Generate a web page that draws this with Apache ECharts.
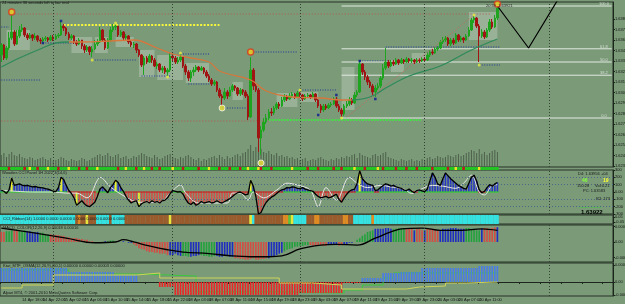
<!DOCTYPE html>
<html>
<head>
<meta charset="utf-8">
<script src="https://cdn.jsdelivr.net/npm/echarts@6.0.0/dist/echarts.min.js"></script>
<style>
html,body{margin:0;padding:0;background:#7a9a78;overflow:hidden;}
#chart{width:625px;height:304px;}
</style>
</head>
<body>
<div id="chart"></div>
<script>
// ---------------- DATA ----------------
const timeLabels = ['14 Apr 2011','14 Apr 18:00','14 Apr 22:00','15 Apr 02:00','15 Apr 06:00','15 Apr 10:00','15 Apr 14:00','15 Apr 18:00','15 Apr 22:00','18 Apr 03:00','18 Apr 07:00','18 Apr 11:00','18 Apr 15:00','18 Apr 19:00','18 Apr 23:00','19 Apr 03:00','19 Apr 07:00','19 Apr 11:00','19 Apr 15:00','19 Apr 19:00','19 Apr 23:00','20 Apr 03:00','20 Apr 07:00','20 Apr 11:00'];
const priceTicks = [1.63810,1.63705,1.63600,1.63495,1.63390,1.63285,1.63180,1.63075,1.62970,1.62865,1.62760,1.62655,1.62550,1.62445,1.62340];
const currentPrice = 1.63922;
const oscTicks = [300,200,100,0,-100,-200,-300];
const oscLevels = [200,100,-100,-200];
const ribbonTicks = [0.05,-0.05];
const macdTicks = [20,0,-20];      // units of 0.00001
const mtfTicks = [50,0,-40];       // units of 0.000001
const separators = [20,66,115,163,211];

const opens = [1.6345,1.6355,1.6342,1.6352,1.6362,1.6368,1.6356,1.6364,1.6370,1.6372,
1.6365,1.6362,1.6365,1.6362,1.6364,1.6360,1.6359,1.6361,1.6362,1.6360,
1.6363,1.6361,1.6364,1.6365,1.6374,1.6372,1.6366,1.6362,1.6364,1.6358,
1.6356,1.6360,1.6354,1.6350,1.6353,1.6348,1.6351,1.6356,1.6358,1.6370,
1.6360,1.6352,1.6360,1.6370,1.6373,1.6374,1.6365,1.6368,1.6362,1.6364,
1.6358,1.6355,1.6356,1.6350,1.6345,1.6335,1.6342,1.6338,1.6344,1.6340,
1.6334,1.6336,1.6330,1.6332,1.6328,1.6330,1.6344,1.6342,1.6338,1.6340,
1.6343,1.6334,1.6328,1.6322,1.6328,1.6330,1.6333,1.6330,1.6332,1.6328,
1.6324,1.6320,1.6316,1.6318,1.6310,1.6304,1.6302,1.6308,1.6304,1.6310,
1.6314,1.6312,1.6306,1.6310,1.6308,1.6304,1.6283,1.6330,1.6314,1.6310,
1.6262,1.6270,1.6278,1.6282,1.6288,1.6287,1.6292,1.6296,1.6294,1.6300,
1.6303,1.6301,1.6304,1.6306,1.6303,1.6307,1.6305,1.6301,1.6304,1.6305,
1.6303,1.6306,1.6300,1.6294,1.6290,1.6294,1.6292,1.6295,1.6296,1.6301,
1.6294,1.6290,1.6286,1.6294,1.6296,1.6300,1.6297,1.6305,1.6308,1.6336,
1.6328,1.6323,1.6318,1.6314,1.6308,1.6312,1.6314,1.6322,1.6332,1.6338,
1.6334,1.6338,1.6336,1.6340,1.6337,1.6340,1.6338,1.6341,1.6339,1.6340,
1.6338,1.6340,1.6339,1.6341,1.6340,1.6345,1.6348,1.6347,1.6351,1.6352,
1.6358,1.6360,1.6362,1.6356,1.6360,1.6357,1.6365,1.6360,1.6362,1.6360,
1.6364,1.6370,1.6380,1.6382,1.6374,1.6364,1.6368,1.6363,1.6370,1.6378,
1.6373,1.6382];
const closes = [1.6355,1.6342,1.6352,1.6362,1.6368,1.6356,1.6364,1.6370,1.6372,1.6365,
1.6362,1.6365,1.6362,1.6364,1.6360,1.6359,1.6361,1.6362,1.6360,1.6363,
1.6361,1.6364,1.6365,1.6374,1.6372,1.6366,1.6362,1.6364,1.6358,1.6356,
1.6360,1.6354,1.6350,1.6353,1.6348,1.6351,1.6356,1.6358,1.6370,1.6360,
1.6352,1.6360,1.6370,1.6373,1.6374,1.6365,1.6368,1.6362,1.6364,1.6358,
1.6355,1.6356,1.6350,1.6345,1.6335,1.6342,1.6338,1.6344,1.6340,1.6334,
1.6336,1.6330,1.6332,1.6328,1.6330,1.6344,1.6342,1.6338,1.6340,1.6343,
1.6334,1.6328,1.6322,1.6328,1.6330,1.6333,1.6330,1.6332,1.6328,1.6324,
1.6320,1.6316,1.6318,1.6310,1.6304,1.6302,1.6308,1.6304,1.6310,1.6314,
1.6312,1.6306,1.6310,1.6308,1.6304,1.6283,1.6330,1.6314,1.6310,1.6262,
1.6270,1.6278,1.6282,1.6288,1.6287,1.6292,1.6296,1.6294,1.6300,1.6303,
1.6301,1.6304,1.6306,1.6303,1.6307,1.6305,1.6301,1.6304,1.6305,1.6303,
1.6306,1.6300,1.6294,1.6290,1.6294,1.6292,1.6295,1.6296,1.6301,1.6294,
1.6290,1.6286,1.6294,1.6296,1.6300,1.6297,1.6305,1.6308,1.6336,1.6328,
1.6323,1.6318,1.6314,1.6308,1.6312,1.6314,1.6322,1.6332,1.6338,1.6334,
1.6338,1.6336,1.6340,1.6337,1.6340,1.6338,1.6341,1.6339,1.6340,1.6338,
1.6340,1.6339,1.6341,1.6340,1.6345,1.6348,1.6347,1.6351,1.6352,1.6358,
1.6360,1.6362,1.6356,1.6360,1.6357,1.6365,1.6360,1.6362,1.6360,1.6364,
1.6370,1.6380,1.6382,1.6374,1.6364,1.6368,1.6363,1.6370,1.6378,1.6373,
1.6382,1.6392];
const highs = [1.6357,1.6356,1.6354,1.6368,1.6386,1.6370,1.6370,1.6374,1.6376,1.6373,
1.6367,1.6367,1.6366,1.6367,1.6365,1.6362,1.6363,1.6364,1.6363,1.6365,
1.6365,1.6366,1.6367,1.6379,1.6376,1.6373,1.6368,1.6366,1.6365,1.6360,
1.6362,1.6360,1.6356,1.6355,1.6354,1.6354,1.6360,1.6361,1.6373,1.6371,
1.6362,1.6362,1.6373,1.6376,1.6375,1.6374,1.6370,1.6369,1.6366,1.6365,
1.6360,1.6358,1.6357,1.6351,1.6346,1.6344,1.6344,1.6346,1.6345,1.6342,
1.6338,1.6337,1.6334,1.6334,1.6332,1.6347,1.6346,1.6344,1.6343,1.6347,
1.6343,1.6336,1.6330,1.6330,1.6333,1.6335,1.6334,1.6334,1.6333,1.6330,
1.6326,1.6322,1.6320,1.6319,1.6312,1.6306,1.6312,1.6310,1.6313,1.6316,
1.6315,1.6313,1.6312,1.6311,1.6310,1.6306,1.6343,1.6332,1.6316,1.6312,
1.6274,1.6282,1.6286,1.6291,1.6292,1.6294,1.6298,1.6298,1.6303,1.6306,
1.6305,1.6307,1.6308,1.6307,1.6309,1.6308,1.6306,1.6306,1.6307,1.6306,
1.6308,1.6307,1.6301,1.6296,1.6296,1.6296,1.6297,1.6298,1.6303,1.6303,
1.6296,1.6292,1.6296,1.6299,1.6303,1.6302,1.6308,1.6310,1.6339,1.6337,
1.6330,1.6325,1.6320,1.6316,1.6315,1.6317,1.6324,1.6336,1.6352,1.6340,
1.6340,1.6340,1.6342,1.6341,1.6342,1.6341,1.6343,1.6342,1.6342,1.6341,
1.6342,1.6342,1.6343,1.6343,1.6348,1.6350,1.6351,1.6353,1.6354,1.6360,
1.6363,1.6364,1.6363,1.6362,1.6362,1.6367,1.6366,1.6364,1.6363,1.6366,
1.6373,1.6382,1.6384,1.6383,1.6376,1.6371,1.6370,1.6372,1.6381,1.6381,
1.6385,1.6394];
const lows = [1.6338,1.6340,1.6340,1.6350,1.6360,1.6354,1.6355,1.6362,1.6368,1.6363,
1.6360,1.6361,1.6359,1.6360,1.6358,1.6356,1.6357,1.6359,1.6358,1.6359,
1.6359,1.6360,1.6362,1.6364,1.6369,1.6364,1.6360,1.6360,1.6356,1.6354,
1.6355,1.6351,1.6347,1.6348,1.6345,1.6343,1.6350,1.6354,1.6357,1.6358,
1.6350,1.6351,1.6358,1.6368,1.6370,1.6363,1.6363,1.6360,1.6360,1.6356,
1.6353,1.6352,1.6347,1.6343,1.6333,1.6325,1.6336,1.6337,1.6337,1.6333,
1.6331,1.6328,1.6327,1.6326,1.6324,1.6328,1.6338,1.6336,1.6336,1.6338,
1.6332,1.6325,1.6319,1.6318,1.6324,1.6328,1.6328,1.6329,1.6326,1.6322,
1.6318,1.6314,1.6314,1.6308,1.6302,1.6294,1.6300,1.6301,1.6303,1.6308,
1.6309,1.6304,1.6304,1.6305,1.6302,1.6280,1.6282,1.6310,1.6308,1.6248,
1.6245,1.6268,1.6276,1.6280,1.6284,1.6285,1.6290,1.6291,1.6293,1.6298,
1.6299,1.6300,1.6302,1.6301,1.6302,1.6302,1.6299,1.6300,1.6302,1.6301,
1.6302,1.6298,1.6292,1.6287,1.6288,1.6290,1.6291,1.6293,1.6295,1.6292,
1.6288,1.6283,1.6284,1.6292,1.6294,1.6295,1.6296,1.6303,1.6307,1.6325,
1.6320,1.6315,1.6312,1.6305,1.6303,1.6310,1.6312,1.6320,1.6330,1.6332,
1.6333,1.6334,1.6335,1.6335,1.6336,1.6336,1.6337,1.6337,1.6337,1.6336,
1.6337,1.6337,1.6338,1.6338,1.6339,1.6343,1.6345,1.6346,1.6349,1.6351,
1.6356,1.6358,1.6354,1.6354,1.6355,1.6356,1.6358,1.6358,1.6357,1.6359,
1.6363,1.6369,1.6377,1.6372,1.6338,1.6362,1.6361,1.6362,1.6368,1.6371,
1.6372,1.6380];
const volumes = [12,14,10,13,15,12,11,13,10,9,
8,10,9,7,8,9,10,8,7,9,
6,7,8,10,9,7,6,8,7,6,
7,9,8,6,7,9,10,12,13,11,
12,14,11,10,12,13,9,10,11,8,
9,11,10,12,14,13,11,10,9,12,
10,8,9,11,12,13,10,9,8,10,
9,11,12,10,8,7,9,6,8,7,
9,10,11,9,12,10,8,11,9,10,
12,13,11,14,15,18,22,16,20,24,
18,15,14,16,13,12,14,11,12,10,
11,9,10,8,9,7,8,9,6,7,
8,7,9,10,8,7,6,8,7,9,
8,10,9,11,10,12,13,9,14,12,
11,10,9,12,13,11,12,14,15,10,
9,8,7,6,8,7,6,7,8,6,
7,6,8,7,9,10,8,9,11,10,
9,10,12,11,10,12,13,11,12,14,
15,17,16,14,18,13,15,12,14,16,
17,15];

// moving average (slope coloured) read as key points [bar, price]
const maRising1 = [[0,1.6333],[7,1.6342],[15,1.6351],[21,1.6357],[26,1.6358]];
const maFalling = [[26,1.6358],[31,1.6358],[42,1.6359],[51,1.6360],[60,1.6352],[66,1.6346],[73,1.6342],[80,1.6338],[84,1.6329],[96,1.6320],[102,1.6309],[112,1.6303],[123,1.6302],[131,1.6300],[135,1.6300]];
const maRising2 = [[135,1.6300],[142,1.6303],[148,1.6312],[157,1.6324],[169,1.6334],[181,1.6350],[191,1.6361]];
const trendLine = [[133,1.6283],[182,1.6385]];
const zigzag = [[191,1.6394],[203,1.6352],[217,1.6412]];

// consolidation boxes [fromBar, toBar, top, bottom]
const boxes = [[2,11,1.6370,1.6350],[27,35,1.6363,1.6347],[36,41,1.6363,1.6347],[44,51,1.6363,1.6353],
[53,59,1.6350,1.6323],[60,70,1.6345,1.6320],[71,80,1.6337,1.6317],[89,93,1.6318,1.6300],
[106,114,1.6307,1.6293],[115,122,1.6308,1.6298],[131,136,1.6333,1.6290],[150,155,1.6340,1.6328],
[158,164,1.6347,1.6340],[180,191,1.6388,1.6360]];

// horizontal levels [kind, fromBar, toBar, price]
const levels = [['red',4,188,1.6386],['blue',0,3,1.6373],['blue',16,28,1.6357],['blue',0,15,1.6320],
['blue',35,52,1.6340],['blue',54,65,1.6324],['blue',69,80,1.6346],['blue',72,80,1.6316],
['blue',96,114,1.6348],['blue',85,95,1.6292],['blue',115,129,1.6310],['blue',138,149,1.6339],
['blue',148,192,1.6353],['blue',184,192,1.6335],['yellow',24,84,1.6375],['red',0,103,1.6279],
['green',103,162,1.6280]];

// fibonacci retracement
const fibFrom = 131, fibTo = 235;
const fibLow = 1.6282, fibHigh = 1.6394;
const fibRatios = [0, 0.382, 0.5, 0.618, 1];
const fibNames = ['0.0','38.2','50.0','61.8','100.0'];

// fractal markers [bar, price]
const fractalBig = [[4,1.6388],[96,1.6348],[191,1.6396]];
const fractalYellow = [[35,1.6340],[44,1.6377],[64,1.6323],[69,1.6347],[115,1.6310],[131,1.6282],[182,1.6385],[184,1.6335]];
const fractalRing = [[85,1.6292],[100,1.6237]];
const fractalBlue = [[16,1.6357],[23,1.6379],[122,1.6285],[129,1.6305],[138,1.6339],[144,1.6301]];

// signal strip under price panel
const stripRed = [3,9,14,22,30,33,45,52,58,61,70,76,84,88,92,100,104,118,122,128,131,140,147,152,156,160,166,172,178];
const stripYellow = [11,18,26,37,48,55,66,80,95,99,112,136,145,175,184];

// CCI panel
const cci = [25,10,-20,30,190,90,
100,110,95,85,90,80,70,75,65,60,55,45,40,25,
10,5,60,200,170,90,20,-20,
-80,-180,-150,-120,-160,-190,-200,-170,-140,
-60,40,70,30,-10,60,100,160,130,60,10,
-60,-110,-150,-130,-120,-200,
-160,-140,-130,-150,-120,-140,-130,-150,-120,-110,-80,-20,
20,10,0,5,-30,-100,
-150,-170,-140,-180,-160,-130,-150,-140,
-130,-150,-140,-120,-140,-150,-130,-110,-90,-60,
-30,-10,0,-20,-40,-30,160,80,-60,
-300,-280,-200,-140,-100,-70,-50,-20,10,30,
40,60,55,70,65,50,45,60,40,30,20,10,-30,-60,
-80,-70,-60,-80,-70,-50,-30,-100,-140,
-80,-30,10,30,40,120,290,
180,140,110,100,90,20,30,
60,90,110,100,80,90,70,60,50,
30,20,40,10,-10,20,30,15,5,40,
150,260,200,110,90,180,260,
220,180,150,120,90,70,50,40,
120,200,230,150,30,-10,10,60,100,80,110,130];
const cciYellow = [4,23,29,44,53,96,138];
const tcciPts = [[0,25],[12,0],[20,0],[25,-15],[29,-15],[33,-80],[37,160],[38,200],[42,70],[48,-70],[53,-140],[61,-140],[65,-15],[69,95],[71,-15],[76,-150],[87,-150],[89,-15],[92,-15],[95,-110],[97,0],[101,-80],[106,25],[110,120],[114,95],[119,25],[122,-200],[125,60],[129,-110],[134,200],[137,120],[141,60],[146,90],[150,70],[155,40],[158,-20],[161,30],[166,90],[170,80],[175,50],[178,120],[181,230],[184,0],[186,-40],[189,90],[191,100]];
// zero-line trend dashes [from, to, state] 0 = up, 1 = down
const zeroRuns = [[0,25,0],[26,36,1],[37,47,0],[48,65,1],[66,70,0],[71,95,1],[96,97,0],[98,108,1],[109,120,0],[121,136,1],[137,143,0],[144,145,1],[146,158,0],[159,160,1],[161,183,0],[184,186,1],[187,191,0]];

// ribbon [from, to, state] 0 cyan,1 brown,2 orange,3 yellow,4 green
const ribbonRuns = [[0,28,0],[29,29,1],[30,30,2],[31,32,1],[33,33,3],[34,36,1],[37,41,0],[42,42,1],[43,47,0],[48,64,1],[65,65,3],[66,95,1],[96,96,3],[97,97,0],[98,108,1],[109,110,2],[111,111,4],[112,112,3],[113,117,0],[118,120,1],[121,122,2],[123,131,1],[132,133,2],[134,135,1],[136,142,0],[143,143,2],[144,191,0]];

// MACD histogram (units 0.00001) and state runs 0 red,1 green,2 blue
const macdHist = [13,13,14,14,15,15,15,14,14,15,14,14,13,
13,13,12,12,10,10,10,9,9,9,8,8,
6,6,5,5,5,4,4,3,3,1,1,
0,-1,-1,0,1,1,2,2,1,1,0,1,0,-1,-1,
-3,-5,-8,-9,-10,-12,-13,-13,-14,-14,-15,-15,-15,-17,
-17,-17,-15,-17,-18,-18,
-18,-19,-19,-18,-18,-17,-17,-18,-18,-19,-19,-18,-18,-19,-19,-18,-18,-19,-19,
-21,-21,-22,-22,-23,-23,-22,-21,-23,-23,-22,-22,-21,-21,
-19,-18,-17,-15,-14,
-12,-10,-9,-8,-6,-6,-5,-5,-4,-4,-4,-5,-5,-4,-4,-5,-5,-4,-4,-3,-4,-5,-4,-3,-3,-1,-1,0,
3,5,8,10,13,14,15,17,
17,17,17,18,18,17,17,17,18,18,
18,17,17,17,15,17,17,15,15,17,
17,17,15,15,15,17,17,17,18,18,
18,17,17,17,18,18,17,17,15,15,
17,18,18,17,18,19,19];
const macdRuns = [[0,1,0],[2,4,1],[5,6,0],[7,9,1],[10,14,2],[15,18,1],[19,35,0],[36,40,2],[41,44,1],[45,50,2],[51,64,0],[65,69,2],[70,72,1],[73,76,2],[77,82,1],[83,89,2],[90,102,0],[103,108,2],[109,118,1],[119,125,0],[126,129,2],[130,131,0],[132,136,2],[137,143,1],[144,150,2],[151,155,1],[156,158,0],[159,159,2],[160,162,0],[163,163,2],[164,168,0],[169,178,2],[179,184,1],[185,185,2],[186,190,0],[191,191,2]];
const macdSignal = [[0,18],[12,12],[25,5],[36,-1],[44,0],[47,3],[51,0],[57,-5],[64,-10],[70,-13],[80,-15],[89,-18],[96,-19],[103,-19],[108,-18],[115,-9],[123,-4],[129,-3],[137,-4],[144,5],[150,13],[154,17],[162,18],[169,15],[177,15],[185,17],[191,15]];

// MTF OSMA panel (units 0.000001): runs [from, to, value]
const mtfRuns = [[0,25,42],[26,43,30],[44,52,21],[53,60,0],[61,66,-15],[67,114,-39],[115,131,-33],[132,138,-3],[139,146,12],[147,153,27],[154,161,30],[162,183,42],[184,191,48]];
const mtfYellow = [[0,-18],[8,-9],[20,21],[52,27],[61,12],[107,-3],[120,-9],[131,-21],[156,-15],[161,-12],[171,-3],[179,0],[191,0]];
const mtfGreen = [[0,36],[26,24],[53,18],[75,-30],[113,-33],[132,-24],[139,-9],[147,12],[151,27],[191,27]];

// ---------------- CHART ----------------
const N_CAT = 236;
const cats = Array.from({length:N_CAT}, (_, i) => String(i));
const FONT = 'Liberation Sans';
const AX = '#1c261c';

function expandRuns(runs){ const out = []; runs.forEach(r => { for (let i = r[0]; i <= r[1]; i++) out[i] = r[2]; }); return out; }

const grids = [
  {top:2, height:165, show:true},
  {top:140, height:27},
  {top:167, height:3},
  {top:170, height:44, show:true},
  {top:215, height:9, show:true},
  {top:225, height:37, show:true},
  {top:263, height:33, show:true}
].map(g => Object.assign({left:0, right:12, borderColor:'#263226', borderWidth:1, backgroundColor:'transparent', outerBoundsMode:'none'}, g));

const xAxes = grids.map((g, gi) => {
  const bottom = gi === 6;
  return {
    type:'category', gridIndex:gi, data:cats, boundaryGap:true, show:bottom,
    axisLine:{show:bottom, lineStyle:{color:AX}},
    axisTick:{show:bottom, interval:7, length:2, lineStyle:{color:AX}},
    axisLabel:{show:bottom, interval:7, fontSize:4, color:'#141414', fontFamily:FONT, align:'left', margin:2,
      formatter:(v, idx) => (idx % 8 === 0 && timeLabels[idx/8]) ? timeLabels[idx/8] : ''},
    splitLine:{show:false}
  };
});

function yAx(gi, min, max, ticks, fmt, show){
  const s = show !== false;
  const o = {type:'value', gridIndex:gi, position:'right', min:min, max:max, show:s,
    axisLine:{show:s, lineStyle:{color:AX}},
    axisTick:{show:!!ticks, length:2, lineStyle:{color:AX}},
    axisLabel:{show:!!ticks, fontSize:4, color:'#141414', fontFamily:FONT, margin:2, formatter:fmt},
    splitLine:{show:false}};
  if (ticks) { o.axisTick.customValues = ticks; o.axisLabel.customValues = ticks; }
  return o;
}
const yAxes = [
  yAx(0, 1.6233, 1.6398, priceTicks, v => v.toFixed(5)),
  yAx(1, 0, 27, null, null, false),
  yAx(2, 0, 1, null, null, false),
  yAx(3, -300, 300, oscTicks, v => v === 0 ? '0.00' : String(v)),
  yAx(4, -0.1, 0.1, ribbonTicks, v => v.toFixed(2)),
  yAx(5, -25.8, 21.9, macdTicks, v => v === 0 ? '0.00' : (v/1e5).toFixed(4)),
  yAx(6, -42, 57, mtfTicks, v => v === 0 ? '0.00' : (v/1e6).toFixed(5)),
  yAx(4, 0, 1, null, null, false)   // 7: ribbon fill axis
];

const sepMarks = separators.map(i => ({xAxis:i}));
function sepLine(extra){
  return {silent:true, symbol:'none', animation:false, label:{show:false},
    lineStyle:{type:[1,2], color:'#334233', width:1}, data: sepMarks.concat(extra || [])};
}

const series = [];

// volume
series.push({type:'bar', xAxisIndex:1, yAxisIndex:1, data:volumes, barWidth:1, silent:true, z:1,
  itemStyle:{color:'#4d604b'}});

// horizontal levels
const levelStyle = {
  blue:{color:'#24369a', width:1, type:[1,1.5]},
  red:{color:'#b55a4e', width:1, type:[1,2]},
  yellow:{color:'#f6f63a', width:2, type:[2,1.5]},
  green:{color:'#3cf03c', width:1.5, type:[2,1]}
};
levels.forEach(l => series.push({type:'line', xAxisIndex:0, yAxisIndex:0, silent:true, symbol:'none', z:2,
  data:[[l[1], l[3]], [l[2], l[3]]], lineStyle:levelStyle[l[0]]}));

// fibonacci
fibRatios.forEach((r, k) => {
  const p = fibLow + (fibHigh - fibLow) * r;
  series.push({type:'line', xAxisIndex:0, yAxisIndex:0, silent:true, symbol:'none', z:2,
    data:[[fibFrom, p], [fibTo, p]], lineStyle:{color:'#e2e9e1', width:1}});
  series.push({type:'scatter', xAxisIndex:0, yAxisIndex:0, silent:true, symbolSize:0, z:2,
    data:[[232, p]], label:{show:true, position:'top', distance:0, formatter:fibNames[k], fontSize:4, color:'#e8eee8', fontFamily:FONT}});
});

// candles
series.push({type:'candlestick', xAxisIndex:0, yAxisIndex:0, barWidth:2, z:3,
  data: opens.map((o, i) => [o, closes[i], lows[i], highs[i]]),
  itemStyle:{color:'#1ea41e', color0:'#a01414', borderColor:'#1ea41e', borderColor0:'#a01414', borderWidth:1},
  markArea:{silent:true, itemStyle:{color:'rgba(226,232,224,0.30)'},
    data: boxes.map(b => [{xAxis:b[0], yAxis:b[2]}, {xAxis:b[1], yAxis:b[3]}])},
  markLine: sepLine([{yAxis:currentPrice, lineStyle:{opacity:0},
    label:{show:true, position:'end', distance:1, formatter:currentPrice.toFixed(5), backgroundColor:'#000', color:'#fff', fontSize:4, fontFamily:FONT, padding:[1,0,1,1]}}])
});

// moving average coloured by slope
[[maRising1,'#2f8a5a'],[maFalling,'#d6773c'],[maRising2,'#2f8a5a']].forEach(m =>
  series.push({type:'line', xAxisIndex:0, yAxisIndex:0, silent:true, symbol:'none', smooth:0.4, z:4,
    data:m[0], lineStyle:{color:m[1], width:1.3}}));
series.push({type:'line', xAxisIndex:0, yAxisIndex:0, silent:true, symbol:'none', z:4,
  data:trendLine, lineStyle:{color:'#c46a5e', width:1, type:[1,1.5]}});
series.push({type:'line', xAxisIndex:0, yAxisIndex:0, silent:true, symbol:'none', z:5, clip:true,
  data:zigzag, lineStyle:{color:'#000', width:1.2}});

// fractals
series.push({type:'scatter', xAxisIndex:0, yAxisIndex:0, silent:true, z:6, data:fractalBig, symbolSize:6,
  itemStyle:{color:'#f2d41e', borderColor:'#d83a22', borderWidth:1.5}});
series.push({type:'scatter', xAxisIndex:0, yAxisIndex:0, silent:true, z:6, data:fractalRing, symbolSize:6,
  itemStyle:{color:'#e8e032', borderColor:'#f4f4f4', borderWidth:1}});
series.push({type:'scatter', xAxisIndex:0, yAxisIndex:0, silent:true, z:6, data:fractalYellow, symbolSize:3,
  itemStyle:{color:'#eef040'}});
series.push({type:'scatter', xAxisIndex:0, yAxisIndex:0, silent:true, z:6, data:fractalBlue, symbol:'rect', symbolSize:2.5,
  itemStyle:{color:'#0a188f'}});

// strip
series.push({type:'bar', xAxisIndex:2, yAxisIndex:2, silent:true, barWidth:2.6,
  data: cci.map((_, i) => ({value:1, itemStyle:{color: stripRed.includes(i) ? '#c01a1a' : (stripYellow.includes(i) ? '#f0e020' : '#1fc81f')}}))});

// CCI panel
series.push({type:'bar', xAxisIndex:3, yAxisIndex:3, silent:true, barWidth:1.6, z:2,
  data: cci.map((v, i) => ({value:v, itemStyle:{color: cciYellow.includes(i) ? '#f2f22a' : (v >= 0 ? '#2a36c4' : '#d2504a')}})),
  markLine: sepLine(oscLevels.map(v => ({yAxis:v, lineStyle:{type:[1,2], color:'#4a6688', width:1}})))});
const zeroState = expandRuns(zeroRuns);
series.push({type:'scatter', xAxisIndex:3, yAxisIndex:3, silent:true, symbol:'rect', symbolSize:[2.6,1.5], z:3,
  data: zeroState.map((s, i) => ({value:[i, 0], itemStyle:{color: s ? '#c82020' : '#30d030'}}))});
series.push({type:'line', xAxisIndex:3, yAxisIndex:3, silent:true, symbol:'none', smooth:0.35, z:4,
  data:tcciPts, lineStyle:{color:'#e6e6e6', width:1}});
series.push({type:'line', xAxisIndex:3, yAxisIndex:3, silent:true, symbol:'none', z:5,
  data:cci, lineStyle:{color:'#000', width:1.3}});

// ribbon
const ribbonColors = ['#34e2e2','#9a5b2c','#e08a22','#e9e43a','#5cc23a'];
const ribbonState = expandRuns(ribbonRuns);
series.push({type:'bar', xAxisIndex:4, yAxisIndex:7, silent:true, barWidth:2.7,
  data: ribbonState.map(s => ({value:1, itemStyle:{color:ribbonColors[s]}}))});

// MACD
const macdColors = ['#d44c44','#22a23c','#1e2cc0'];
const macdState = expandRuns(macdRuns);
series.push({type:'bar', xAxisIndex:5, yAxisIndex:5, silent:true, barWidth:1.6,
  data: macdHist.map((v, i) => ({value:v, itemStyle:{color:macdColors[macdState[i]]}})),
  markLine: sepLine()});
series.push({type:'line', xAxisIndex:5, yAxisIndex:5, silent:true, symbol:'none', smooth:0.4, z:4,
  data:macdSignal, lineStyle:{color:'#000', width:1.3}});

// MTF OSMA
const mtfVals = expandRuns(mtfRuns);
series.push({type:'line', xAxisIndex:6, yAxisIndex:6, silent:true, symbol:'none', step:'end', z:1,
  data:mtfGreen, lineStyle:{color:'#3cc83c', width:1}});
series.push({type:'bar', xAxisIndex:6, yAxisIndex:6, silent:true, barWidth:1.6, z:2,
  data: mtfVals.map(v => ({value:v, itemStyle:{color: v >= 0 ? '#4a7ce6' : '#ea2626'}})),
  markLine: sepLine()});
series.push({type:'line', xAxisIndex:6, yAxisIndex:6, silent:true, symbol:'none', step:'end', z:3,
  data:mtfYellow, lineStyle:{color:'#cfd45a', width:1}});

// texts
function txt(x, y, t, fill, size, weight){
  return {type:'text', x:x, y:y, silent:true, z:100,
    style:{text:t, fill:fill || '#1a1a1a', font:(weight || 'normal') + ' ' + (size || 4) + 'px ' + FONT, verticalAlign:'top'}};
}
const graphics = [
  txt(2, 1, '24 minutes 36 seconds left to bar end'),
  txt(486, 4, '20:39  1.63921', '#2a2a2a'),
  txt(2, 171, 'Woodies CCI Panel 1H 2022 3(14,6)'),
  txt(3, 217, 'CCI_Ribbon(14) 1.0000 0.0000 0.0000 0.0000 0.0000 0.0000 0.0000'),
  txt(3, 226, 'MACD_COLOR(12,26,9) 0.00018 0.00016'),
  txt(3, 264, 'Kiwi_MTF_OSMA(12,26,9),(60,1) 0.00000 0.00000 0.00003 0.00000'),
  txt(3, 291, 'Alpari MT4, \u00a9 2001-2010 MetaQuotes Software Corp.'),
  txt(578, 172, 'D4: 1.63956 +04'),
  txt(582, 178, '46', '#86ff3c', 5, 'bold'),
  txt(603, 178, '19', '#ffff30', 5, 'bold'),
  txt(577, 184, '150:28'),
  txt(595, 184, 'Vol:0.21'),
  txt(583, 189, 'PC: 1.63583'),
  txt(596, 197, 'R2: 173'),
  txt(579, 205, '-------- --------', '#36d036'),
  txt(581, 209, '1.63922', '#000', 6, 'bold')
];

const chart = echarts.init(document.getElementById('chart'), null, {renderer:'canvas', width:625, height:304});
chart.setOption({
  animation:false,
  backgroundColor:'#7a9a78',
  grid:grids, xAxis:xAxes, yAxis:yAxes, series:series, graphic:graphics
});
</script>
</body>
</html>
